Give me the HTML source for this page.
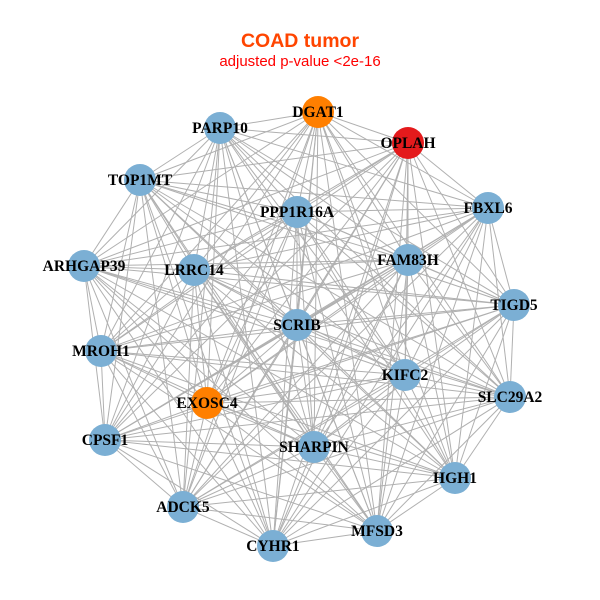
<!DOCTYPE html>
<html><head><meta charset="utf-8"><style>
html,body{margin:0;padding:0;background:#fff;}
svg{display:block;}
</style></head><body>
<svg id="s" width="600" height="600" xmlns="http://www.w3.org/2000/svg">
<rect width="600" height="600" fill="#fff"/>
<text x="300" y="47" text-anchor="middle" font-family="Liberation Sans, sans-serif" font-weight="bold" font-size="19.5" fill="#FF4500">COAD tumor</text>
<text x="300" y="66" text-anchor="middle" font-family="Liberation Sans, sans-serif" font-size="15" fill="#FF0000">adjusted p-value &lt;2e-16</text>
<g id="e" stroke="#b0b0b0" stroke-width="1"></g>
<g id="n"></g>
</svg>
<script>
var N=[["DGAT1",318,112,"#FF7F00"],["PARP10",220,128],["OPLAH",408,143,"#E41A1C"],["TOP1MT",140,180],["PPP1R16A",297,212],["FBXL6",488,208],["ARHGAP39",84,266],["LRRC14",194,270],["FAM83H",408,260],["TIGD5",514,305],["SCRIB",297,325],["MROH1",101,351],["KIFC2",405,375],["SLC29A2",510,397],["EXOSC4",207,403,"#FF7F00"],["CPSF1",105,440],["SHARPIN",314,447],["HGH1",455,478],["ADCK5",183,507],["CYHR1",273,546],["MFSD3",377,531]];
var ns="http://www.w3.org/2000/svg",E=document.getElementById("e"),G=document.getElementById("n");
for(var i=0;i<N.length;i++)for(var j=i+1;j<N.length;j++){
 var l=document.createElementNS(ns,"line");
 l.setAttribute("x1",N[i][1]);l.setAttribute("y1",N[i][2]);l.setAttribute("x2",N[j][1]);l.setAttribute("y2",N[j][2]);E.appendChild(l);}
N.forEach(function(d){
 var c=document.createElementNS(ns,"circle");c.setAttribute("cx",d[1]);c.setAttribute("cy",d[2]);c.setAttribute("r",16);c.setAttribute("fill",d[3]||"#7BAFD4");G.appendChild(c);
});
N.forEach(function(d){
 var t=document.createElementNS(ns,"text");t.setAttribute("x",d[1]);t.setAttribute("y",d[2]+5);t.setAttribute("text-anchor","middle");
 t.setAttribute("font-family","Liberation Serif, serif");t.setAttribute("font-weight","bold");t.setAttribute("font-size","15.5");t.textContent=d[0];G.appendChild(t);
});
</script>
</body></html>
